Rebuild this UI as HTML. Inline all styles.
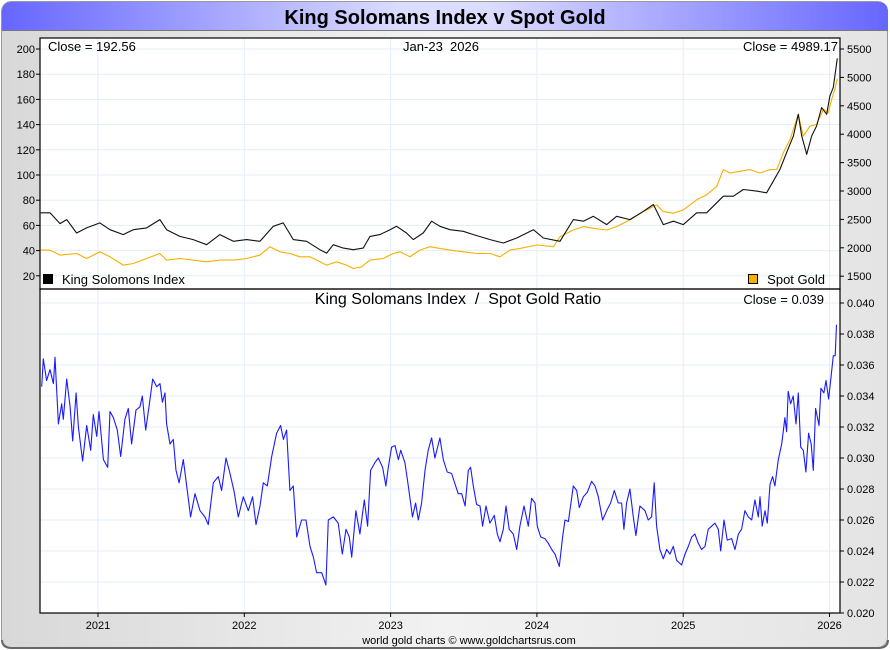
<!DOCTYPE html>
<html><head><meta charset="utf-8"><style>
html,body{margin:0;padding:0;background:#fff;}
svg{display:block;font-family:"Liberation Sans",sans-serif;}
text{white-space:pre;}
</style></head><body>
<svg id="chart" width="890" height="650" viewBox="0 0 890 650" xmlns="http://www.w3.org/2000/svg">
<defs>
<linearGradient id="bg" x1="0" x2="1" y1="0" y2="0"><stop offset="0" stop-color="#d8d8d8"/><stop offset="0.5" stop-color="#f2f2f2"/><stop offset="1" stop-color="#e4e4e4"/></linearGradient>
<linearGradient id="tb" x1="0" x2="1" y1="0" y2="0"><stop offset="0" stop-color="#6666ff"/><stop offset="0.45" stop-color="#dcdcff"/><stop offset="0.55" stop-color="#dcdcff"/><stop offset="1" stop-color="#6666ff"/></linearGradient>
</defs>
<rect x="1.5" y="1.5" width="886" height="646" rx="10" fill="url(#bg)" stroke="#999" stroke-width="1"/>
<path d="M2,640 Q2,648 12,648 L878,648 Q888,648 888,640" fill="none" stroke="#666" stroke-width="2"/>
<path d="M2,30 L2,12 Q2,2 12,2 L878,2 Q888,2 888,12 L888,30 Z" fill="url(#tb)"/>
<line x1="2" y1="30.5" x2="888" y2="30.5" stroke="#777"/>
<text x="445" y="24" text-anchor="middle" font-size="20" font-weight="bold" fill="#000">King Solomans Index v Spot Gold</text>
<rect x="40" y="38" width="800" height="575" fill="#fff"/>
<g id="grid"></g>
<g id="series"></g>
<g id="axes"></g>
</svg>
<script>
// ---- data ----
const years = [2021, 2022, 2023, 2024, 2025, 2026];
const ksiTicks = [20, 40, 60, 80, 100, 120, 140, 160, 180, 200];
const goldTicks = [1500, 2000, 2500, 3000, 3500, 4000, 4500, 5000, 5500];
const ratioTicks = [0.020, 0.022, 0.024, 0.026, 0.028, 0.030, 0.032, 0.034, 0.036, 0.038, 0.040];

const goldDates = [2020.608,2020.672,2020.740,2020.854,2020.922,2021.013,2021.082,2021.173,2021.241,2021.332,2021.423,2021.469,2021.560,2021.651,2021.742,2021.833,2021.925,2022.016,2022.107,2022.175,2022.243,2022.312,2022.380,2022.449,2022.517,2022.563,2022.631,2022.699,2022.745,2022.802,2022.859,2022.950,2023.018,2023.064,2023.132,2023.200,2023.269,2023.337,2023.406,2023.497,2023.589,2023.680,2023.748,2023.816,2023.885,2023.999,2024.113,2024.158,2024.249,2024.318,2024.386,2024.477,2024.545,2024.636,2024.728,2024.819,2024.864,2024.933,2025.001,2025.092,2025.160,2025.229,2025.274,2025.320,2025.388,2025.456,2025.525,2025.593,2025.639,2025.684,2025.730,2025.787,2025.821,2025.867,2025.912,2025.958,2025.992,2026.015,2026.037,2026.053];
const goldValues = [1960,1960,1872,1900,1812,1930,1842,1695,1724,1812,1900,1783,1812,1783,1754,1783,1783,1812,1872,2020,1930,1900,1842,1842,1754,1695,1754,1695,1636,1665,1783,1812,1900,1930,1842,1960,2020,1990,1960,1930,1900,1900,1842,1960,1990,2050,2020,2196,2314,2373,2343,2314,2373,2491,2638,2756,2638,2609,2668,2845,2934,3081,3376,3317,3346,3376,3317,3376,3376,3671,3907,4350,3966,4143,4173,4438,4379,4615,4792,4981];

const ksiDates = [2020.608,2020.672,2020.740,2020.786,2020.854,2020.922,2021.013,2021.082,2021.173,2021.241,2021.332,2021.423,2021.469,2021.560,2021.651,2021.742,2021.833,2021.925,2022.016,2022.107,2022.198,2022.266,2022.335,2022.426,2022.517,2022.563,2022.608,2022.677,2022.745,2022.813,2022.859,2022.927,2022.996,2023.041,2023.109,2023.155,2023.223,2023.280,2023.337,2023.406,2023.497,2023.566,2023.680,2023.771,2023.862,2023.976,2024.044,2024.158,2024.249,2024.318,2024.386,2024.477,2024.545,2024.636,2024.728,2024.796,2024.864,2024.933,2025.001,2025.092,2025.160,2025.229,2025.274,2025.343,2025.411,2025.502,2025.570,2025.616,2025.661,2025.707,2025.753,2025.787,2025.810,2025.844,2025.878,2025.912,2025.946,2025.981,2026.003,2026.026,2026.053];
const ksiValues = [70,70,61.4,64.6,54,58,62,56.6,52.7,56.6,58,64.6,56.6,51.3,48.7,44.7,52.7,47.4,48.7,47.4,59.3,62,48.7,47.4,40.7,38,44.7,42,40.7,42,51.3,52.7,56.6,59.3,54,48.7,54,63.3,59.3,56.6,55.3,52.7,48.7,46,50,56.6,50,47.4,64.6,63.3,67.2,60.6,67.2,64.6,71.2,76.6,60.6,63.3,60.6,70,70,77.9,83.2,83.2,88.5,87.2,85.9,95.1,104.4,117.7,131,148.2,131,116.4,131,138.9,153.5,148.2,162.8,169.5,192.6];

const ratioDates = [2020.615,2020.626,2020.649,2020.672,2020.695,2020.706,2020.729,2020.752,2020.763,2020.786,2020.809,2020.827,2020.850,2020.866,2020.895,2020.923,2020.950,2020.968,2020.991,2021.007,2021.037,2021.066,2021.082,2021.105,2021.132,2021.155,2021.184,2021.207,2021.230,2021.260,2021.287,2021.303,2021.326,2021.351,2021.374,2021.401,2021.424,2021.440,2021.458,2021.469,2021.492,2021.515,2021.533,2021.554,2021.583,2021.606,2021.633,2021.663,2021.697,2021.731,2021.754,2021.788,2021.822,2021.845,2021.875,2021.902,2021.929,2021.959,2021.993,2022.027,2022.057,2022.080,2022.107,2022.130,2022.157,2022.187,2022.221,2022.248,2022.267,2022.289,2022.312,2022.335,2022.358,2022.392,2022.422,2022.449,2022.472,2022.494,2022.529,2022.558,2022.574,2022.608,2022.642,2022.670,2022.695,2022.718,2022.734,2022.763,2022.790,2022.820,2022.843,2022.863,2022.893,2022.916,2022.945,2022.968,2022.984,2023.007,2023.030,2023.053,2023.069,2023.098,2023.121,2023.150,2023.171,2023.189,2023.212,2023.235,2023.257,2023.280,2023.303,2023.337,2023.360,2023.387,2023.417,2023.462,2023.486,2023.509,2023.531,2023.547,2023.565,2023.588,2023.611,2023.629,2023.652,2023.679,2023.709,2023.729,2023.748,2023.770,2023.789,2023.811,2023.839,2023.862,2023.884,2023.912,2023.941,2023.964,2023.987,2024.003,2024.026,2024.055,2024.078,2024.101,2024.124,2024.153,2024.176,2024.192,2024.215,2024.249,2024.272,2024.290,2024.317,2024.345,2024.374,2024.397,2024.420,2024.449,2024.477,2024.504,2024.529,2024.556,2024.579,2024.595,2024.613,2024.636,2024.659,2024.677,2024.704,2024.739,2024.761,2024.784,2024.802,2024.818,2024.841,2024.864,2024.887,2024.909,2024.932,2024.955,2024.989,2025.012,2025.035,2025.058,2025.080,2025.103,2025.126,2025.149,2025.171,2025.194,2025.217,2025.240,2025.256,2025.279,2025.301,2025.331,2025.354,2025.377,2025.399,2025.422,2025.445,2025.468,2025.490,2025.513,2025.525,2025.540,2025.559,2025.575,2025.593,2025.611,2025.627,2025.650,2025.673,2025.695,2025.707,2025.718,2025.734,2025.752,2025.771,2025.787,2025.803,2025.821,2025.839,2025.857,2025.875,2025.889,2025.905,2025.928,2025.941,2025.962,2025.976,2025.994,2026.010,2026.026,2026.039,2026.048];
const ratioValues = [0.0346,0.0364,0.0350,0.0357,0.0348,0.0365,0.0322,0.0335,0.0325,0.0351,0.0333,0.0311,0.0342,0.0320,0.0298,0.0321,0.0305,0.0328,0.0314,0.0330,0.0299,0.0294,0.0330,0.0326,0.0318,0.0301,0.0325,0.0332,0.0309,0.0331,0.0333,0.0340,0.0318,0.0335,0.0351,0.0346,0.0348,0.0336,0.0342,0.0322,0.0309,0.0312,0.0292,0.0284,0.0299,0.0282,0.0262,0.0277,0.0266,0.0262,0.0257,0.0284,0.0288,0.0279,0.0300,0.0290,0.0279,0.0262,0.0275,0.0266,0.0275,0.0257,0.0269,0.0284,0.0282,0.0301,0.0316,0.0321,0.0312,0.0318,0.0279,0.0282,0.0249,0.0260,0.0260,0.0243,0.0236,0.0226,0.0226,0.0218,0.0260,0.0262,0.0258,0.0238,0.0254,0.0249,0.0236,0.0266,0.0251,0.0273,0.0256,0.0292,0.0297,0.0300,0.0294,0.0282,0.0294,0.0307,0.0308,0.0299,0.0305,0.0297,0.0282,0.0262,0.0271,0.0260,0.0271,0.0292,0.0305,0.0313,0.0300,0.0313,0.0299,0.0291,0.0290,0.0277,0.0277,0.0269,0.0292,0.0294,0.0282,0.0270,0.0269,0.0256,0.0269,0.0258,0.0263,0.0251,0.0246,0.0254,0.0269,0.0254,0.0251,0.0241,0.0256,0.0269,0.0256,0.0274,0.0271,0.0256,0.0249,0.0248,0.0245,0.0241,0.0238,0.0230,0.0249,0.0260,0.0259,0.0282,0.0279,0.0268,0.0275,0.0278,0.0285,0.0282,0.0275,0.0260,0.0266,0.0271,0.0279,0.0271,0.0271,0.0254,0.0271,0.0280,0.0262,0.0250,0.0269,0.0266,0.0260,0.0262,0.0284,0.0256,0.0241,0.0235,0.0241,0.0238,0.0243,0.0234,0.0231,0.0238,0.0243,0.0249,0.0251,0.0245,0.0241,0.0243,0.0254,0.0256,0.0258,0.0254,0.0240,0.0260,0.0247,0.0248,0.0241,0.0251,0.0254,0.0266,0.0262,0.0260,0.0273,0.0262,0.0275,0.0256,0.0266,0.0258,0.0283,0.0288,0.0282,0.0299,0.0309,0.0326,0.0317,0.0343,0.0335,0.0340,0.0322,0.0342,0.0307,0.0305,0.0291,0.0316,0.0309,0.0292,0.0332,0.0321,0.0345,0.0342,0.0350,0.0338,0.0352,0.0366,0.0366,0.0386];

// ---- scales ----
const L = 40, R = 840, T1 = 38, B1 = 289, B2 = 613;
const xS = t => 98 + (t - 2021) * 146.3;
const yKsi = v => 49 + (200 - v) / 20 * 25.2;
const yGold = v => 49 + (5500 - v) / 500 * 28.4;
const yRatio = v => 303 + (0.040 - v) / 0.002 * 31;

const NS = "http://www.w3.org/2000/svg";
function mk(tag, attrs, parent, text) {
  const e = document.createElementNS(NS, tag);
  for (const k in attrs) e.setAttribute(k, attrs[k]);
  if (text !== undefined) e.textContent = text;
  parent.appendChild(e);
  return e;
}
const grid = document.getElementById('grid');
const series = document.getElementById('series');
const axes = document.getElementById('axes');

years.forEach(y => {
  const l = mk('line', {x1: xS(y), x2: xS(y), y1: T1, y2: B2, stroke: '#e2eef8'}, grid);
  
  
});
ksiTicks.forEach(v => {
  const l = mk('line', {x1: L, x2: R, y1: yKsi(v), y2: yKsi(v), stroke: '#e2eef8'}, grid);
  
  
});
ratioTicks.forEach(v => {
  const l = mk('line', {x1: L, x2: R, y1: yRatio(v), y2: yRatio(v), stroke: '#e2eef8'}, grid);
  
  
});

function line(dates, vals, yf, color, name) {
  const d = dates.map((t, i) => (i ? 'L' : 'M') + xS(t).toFixed(1) + ',' + yf(vals[i]).toFixed(1)).join('');
  const p = mk('path', {d: d, fill: 'none', stroke: color, 'stroke-width': 1.1, 'stroke-linejoin': 'round'}, series);
  
  
}
line(goldDates, goldValues, yGold, '#f5b000', 'spot-gold-line');
line(ksiDates, ksiValues, yKsi, '#111', 'king-solomons-index-line');
line(ratioDates, ratioValues, yRatio, '#1a1aff', 'ratio-line');

const f1 = mk('rect', {x: L, y: T1, width: R - L, height: B1 - T1, fill: 'none', stroke: '#000', 'stroke-width': 1.2}, axes);


const f2 = mk('rect', {x: L, y: B1, width: R - L, height: B2 - B1, fill: 'none', stroke: '#000', 'stroke-width': 1.2}, axes);



ksiTicks.forEach(v => {
  mk('line', {x1: L - 4, x2: L, y1: yKsi(v), y2: yKsi(v), stroke: '#000'}, axes);
  const t = mk('text', {x: L - 5, y: yKsi(v) + 4, 'text-anchor': 'end', 'font-size': 11, fill: '#000'}, axes, String(v));
  
  
});
goldTicks.forEach(v => {
  mk('line', {x1: R, x2: R + 4, y1: yGold(v), y2: yGold(v), stroke: '#000'}, axes);
  const t = mk('text', {x: R + 7, y: yGold(v) + 4, 'font-size': 11, fill: '#000'}, axes, String(v));
  
  
});
ratioTicks.forEach(v => {
  mk('line', {x1: R, x2: R + 4, y1: yRatio(v), y2: yRatio(v), stroke: '#000'}, axes);
  const t = mk('text', {x: R + 7, y: yRatio(v) + 4, 'font-size': 11, fill: '#000'}, axes, v.toFixed(3));
  
  
});
years.forEach(y => {
  mk('line', {x1: xS(y), x2: xS(y), y1: B2, y2: B2 + 4, stroke: '#000'}, axes);
  const t = mk('text', {x: xS(y), y: B2 + 16, 'text-anchor': 'middle', 'font-size': 11, fill: '#000'}, axes, String(y));
  
  
});
</script>
<script>
(function(){
const s = document.getElementById('chart');
const NS = "http://www.w3.org/2000/svg";
function tx(x, y, size, anchor, str, name) {
  const e = document.createElementNS(NS, 'text');
  e.setAttribute('x', x); e.setAttribute('y', y); e.setAttribute('font-size', size);
  e.setAttribute('text-anchor', anchor); e.setAttribute('fill', '#000');
  e.textContent = str;
  
  
  s.appendChild(e);
}
tx(48, 51, 13, 'start', 'Close = 192.56', 'ksi-close-label');
tx(441, 51, 13, 'middle', 'Jan-23  2026', 'date-label');
tx(838, 51, 13, 'end', 'Close = 4989.17', 'gold-close-label');
tx(62, 284, 13, 'start', 'King Solomons Index', 'legend-ksi');
tx(825, 284, 13, 'end', 'Spot Gold', 'legend-gold');
tx(458, 304, 16, 'middle', 'King Solomans Index  /  Spot Gold Ratio', 'ratio-title');
tx(824, 304, 13, 'end', 'Close = 0.039', 'ratio-close-label');
tx(469, 644, 11, 'middle', 'world gold charts © www.goldchartsrus.com', 'footer-credit');
const r1 = document.createElementNS(NS, 'rect');
r1.setAttribute('x', 43); r1.setAttribute('y', 274); r1.setAttribute('width', 10); r1.setAttribute('height', 10); r1.setAttribute('fill', '#000');


s.appendChild(r1);
const r2 = document.createElementNS(NS, 'rect');
r2.setAttribute('x', 748.5); r2.setAttribute('y', 274.5); r2.setAttribute('width', 9); r2.setAttribute('height', 9); r2.setAttribute('fill', '#f5b000'); r2.setAttribute('stroke', '#000');


s.appendChild(r2);
})();
</script>
</body></html>
